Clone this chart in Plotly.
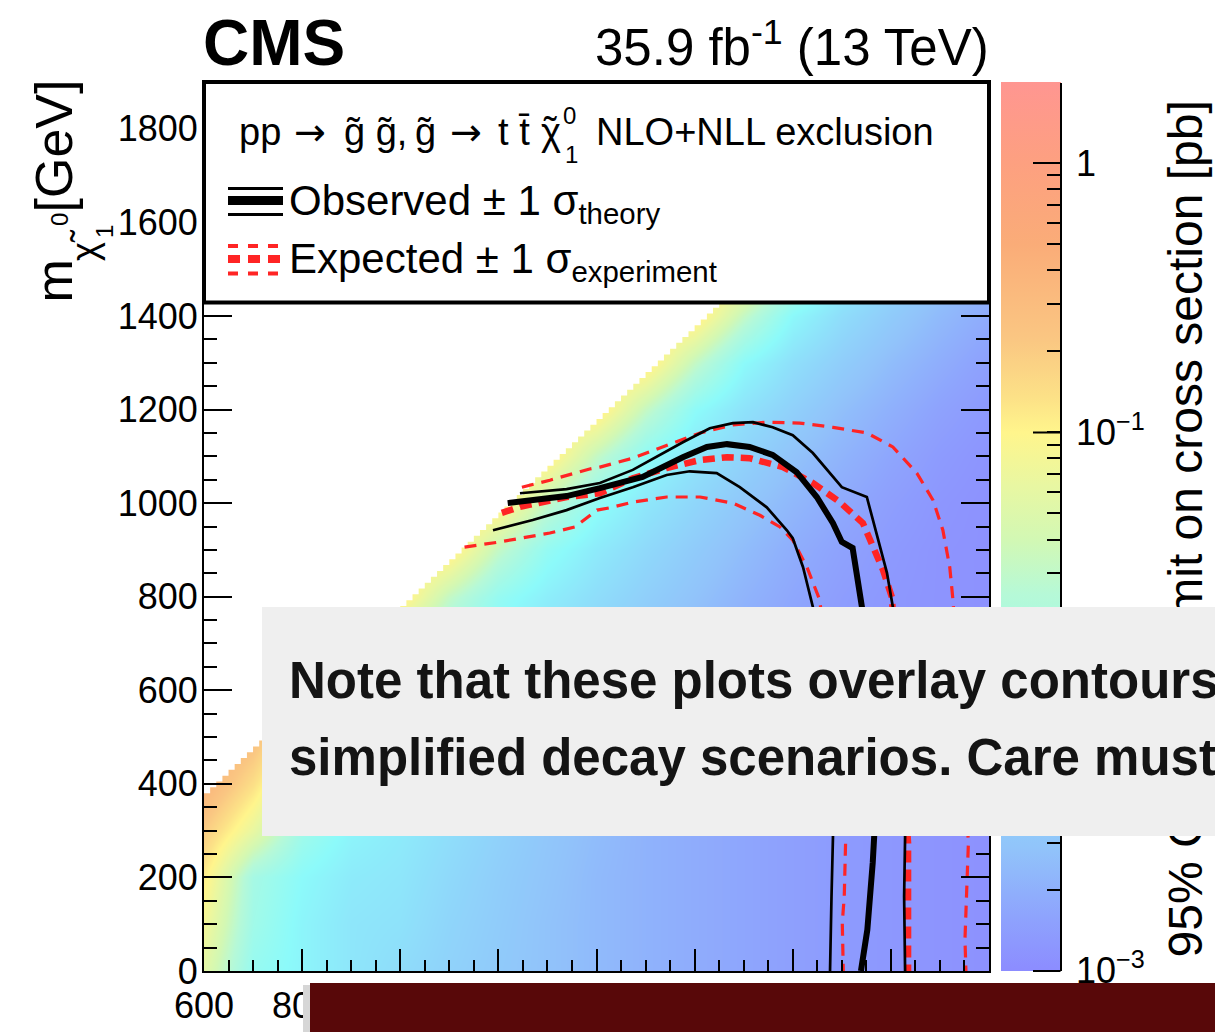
import numpy as np
import plotly.graph_objects as go

FONT = "Liberation Sans, Arial, Helvetica, sans-serif"
ARROW_FONT = "DejaVu Sans, Liberation Sans, sans-serif"
W, H = 1215, 1032
ML, MR, MT, MB = 204, 226, 82, 61
PW, PH = W - ML - MR, H - MT - MB

def px(x):
    return (x - ML) / PW

def py(y):
    return (H - MB - y) / PH

# ---------------- data ----------------
m_gluino_nodes = list(range(600, 2201, 100))
m_lsp_nodes = list(range(0, 1901, 100))
# log10 of the 95% CL upper limit [pb], rows = m_LSP nodes, cols = m_gluino nodes
log10_limit = [
    [-1.25, -1.9, -2.05, -2.2, -2.3, -2.4, -2.48, -2.55, -2.62, -2.68, -2.73, -2.78, -2.83, -2.87, -2.9, -2.93, -2.95],
    [-1.1, -1.8, -2.05, -2.2, -2.24, -2.37, -2.46, -2.55, -2.62, -2.68, -2.73, -2.78, -2.83, -2.87, -2.9, -2.93, -2.95],
    [-0.95, -1.75, -2.0, -2.15, -2.2, -2.33, -2.44, -2.53, -2.62, -2.68, -2.73, -2.78, -2.83, -2.87, -2.9, -2.93, -2.95],
    [-0.7, -1.2, -1.8, -2.05, -2.15, -2.28, -2.4, -2.51, -2.6, -2.68, -2.73, -2.78, -2.83, -2.87, -2.9, -2.93, -2.95],
    [-0.4, -0.85, -1.45, -1.85, -2.08, -2.22, -2.35, -2.47, -2.57, -2.66, -2.73, -2.78, -2.83, -2.87, -2.9, -2.93, -2.95],
    [-0.3, -0.55, -1.1, -1.6, -2.0, -2.15, -2.29, -2.41, -2.53, -2.63, -2.71, -2.78, -2.83, -2.87, -2.9, -2.93, -2.95],
    [-0.3, -0.4, -0.7, -1.35, -1.85, -2.05, -2.2, -2.34, -2.46, -2.58, -2.68, -2.76, -2.83, -2.87, -2.9, -2.93, -2.95],
    [-0.3, -0.4, -0.5, -0.8, -1.5, -1.88, -2.09, -2.24, -2.39, -2.51, -2.63, -2.73, -2.81, -2.87, -2.9, -2.93, -2.95],
    [-0.3, -0.4, -0.5, -0.6, -0.9, -1.5, -1.9, -2.12, -2.29, -2.43, -2.55, -2.67, -2.77, -2.85, -2.9, -2.93, -2.95],
    [-0.3, -0.4, -0.5, -0.6, -0.8, -0.9, -1.5, -1.92, -2.16, -2.33, -2.47, -2.6, -2.72, -2.81, -2.88, -2.93, -2.95],
    [-0.3, -0.4, -0.5, -0.6, -0.8, -0.8, -0.9, -1.5, -1.94, -2.19, -2.36, -2.51, -2.64, -2.75, -2.84, -2.91, -2.95],
    [-0.3, -0.4, -0.5, -0.6, -0.8, -0.8, -0.8, -0.9, -1.5, -1.96, -2.21, -2.39, -2.55, -2.67, -2.78, -2.87, -2.93],
    [-0.3, -0.4, -0.5, -0.6, -0.8, -0.8, -0.8, -0.8, -0.9, -1.5, -1.98, -2.24, -2.42, -2.58, -2.7, -2.81, -2.89],
    [-0.3, -0.4, -0.5, -0.6, -0.8, -0.8, -0.8, -0.8, -0.8, -0.9, -1.5, -2.0, -2.27, -2.45, -2.6, -2.72, -2.83],
    [-0.3, -0.4, -0.5, -0.6, -0.8, -0.8, -0.8, -0.8, -0.8, -0.8, -0.9, -1.5, -2.02, -2.29, -2.47, -2.62, -2.74],
    [-0.3, -0.4, -0.5, -0.6, -0.8, -0.8, -0.8, -0.8, -0.8, -0.8, -0.8, -0.9, -1.5, -2.03, -2.3, -2.49, -2.64],
    [-0.3, -0.4, -0.5, -0.6, -0.8, -0.8, -0.8, -0.8, -0.8, -0.8, -0.8, -0.8, -0.9, -1.5, -2.04, -2.32, -2.5],
    [-0.3, -0.4, -0.5, -0.6, -0.8, -0.8, -0.8, -0.8, -0.8, -0.8, -0.8, -0.8, -0.8, -0.9, -1.5, -2.05, -2.33],
    [-0.3, -0.4, -0.5, -0.6, -0.8, -0.8, -0.8, -0.8, -0.8, -0.8, -0.8, -0.8, -0.8, -0.8, -0.9, -1.5, -2.06],
    [-0.3, -0.4, -0.5, -0.6, -0.8, -0.8, -0.8, -0.8, -0.8, -0.8, -0.8, -0.8, -0.8, -0.8, -0.8, -0.9, -1.5],
]

# kinematic edge of the scanned region (m_LSP top = m_gluino - gap, in bins)
scan_bin_width = 12.5
scan_diag_gap = 220

# exclusion contours (m_gluino, m_LSP) in GeV
obs_mg = [1219, 1270, 1339, 1407, 1494, 1576, 1625, 1666, 1712, 1759, 1808, 1849, 1882, 1900, 1922, 1930, 1941, 1955, 1966, 1963, 1957, 1952, 1939]
obs_ml = [1000, 1006, 1015, 1032, 1056, 1098, 1120, 1126, 1120, 1103, 1066, 1013, 957, 917, 904, 851, 778, 537, 288, 231, 160, 88, 0]
obs_up_mg = [1244, 1339, 1407, 1474, 1576, 1631, 1678, 1719, 1759, 1800, 1841, 1876, 1900, 1951, 1971, 1992, 2004, 2018, 2029, 2027, 2029]
obs_up_ml = [1021, 1030, 1043, 1071, 1130, 1160, 1171, 1173, 1162, 1145, 1107, 1064, 1034, 1013, 936, 851, 778, 537, 287, 159, 0]
obs_dn_mg = [1189, 1270, 1339, 1407, 1474, 1543, 1590, 1645, 1692, 1747, 1788, 1800, 1821, 1841, 1859, 1882, 1879, 1876]
obs_dn_ml = [942, 964, 985, 1011, 1034, 1060, 1068, 1064, 1034, 991, 942, 925, 863, 778, 537, 288, 160, 0]
exp_mg = [1207, 1244, 1339, 1407, 1474, 1543, 1611, 1666, 1712, 1780, 1841, 1896, 1943, 1963, 1984, 2002, 2020, 2035, 2035]
exp_ml = [979, 992, 1013, 1021, 1053, 1075, 1092, 1098, 1096, 1077, 1043, 1002, 957, 906, 857, 799, 537, 274, 0]
exp_up_mg = [1248, 1305, 1386, 1407, 1474, 1543, 1611, 1678, 1747, 1814, 1882, 1951, 2004, 2053, 2086, 2106, 2120, 2126, 2145, 2158, 2154, 2151, 2153]
exp_up_ml = [1034, 1049, 1073, 1077, 1096, 1124, 1150, 1167, 1173, 1171, 1162, 1150, 1120, 1064, 1006, 942, 863, 799, 537, 273, 160, 67, 0]
exp_dn_mg = [1131, 1203, 1305, 1356, 1401, 1427, 1474, 1543, 1611, 1678, 1733, 1774, 1800, 1829, 1855, 1884, 1908, 1905, 1901, 1903]
exp_dn_ml = [906, 917, 936, 949, 985, 990, 1002, 1013, 1013, 1000, 974, 949, 921, 863, 793, 537, 288, 160, 103, 0]

# colour palette: log10(limit) -> colour
pal_log10 = [-3.0, -2.8, -2.55, -2.0, -1.6, -1.4, -1.2, -1.0, -0.87, -0.65, -0.3, 0.0, np.log10(2.0)]
pal_colors = ["rgb(140,140,255)", "rgb(142,163,253)", "rgb(145,195,250)", "rgb(140,250,250)",
              "rgb(182,249,215)", "rgb(210,248,180)", "rgb(232,247,162)", "rgb(255,245,140)",
              "rgb(252,225,135)", "rgb(250,198,130)", "rgb(250,172,120)", "rgb(253,160,128)",
              "rgb(255,150,145)"]
z_min, z_max = -3.0, np.log10(2.0)

cb_major = [-3, -2, -1, 0]
cb_major_text = ["10<sup>\u22123</sup>", "10<sup>\u22122</sup>", "10<sup>\u22121</sup>", "1"]
cb_minor = [np.log10(k * 10.0 ** e) for e in (-3, -2, -1, 0) for k in range(2, 10) if k * 10.0 ** e <= 2.0001]

x_ticks = list(range(600, 2201, 200))
y_ticks = list(range(0, 1801, 200))

# ---------------- figure ----------------
colorscale = [[(v - z_min) / (z_max - z_min), c] for v, c in zip(pal_log10, pal_colors)]
colorscale[-1][0] = 1.0

fig = go.Figure()
fig.add_trace(go.Heatmap(
    x=m_gluino_nodes, y=m_lsp_nodes, z=log10_limit, zsmooth="best",
    zmin=z_min, zmax=z_max, colorscale=colorscale, hoverinfo="skip",
    colorbar=dict(
        x=px(1001), xanchor="left", xpad=0, ypad=0, y=0, yanchor="bottom",
        len=1, lenmode="fraction", thickness=60, thicknessmode="pixels",
        outlinewidth=0, tickmode="array",
        tickvals=cb_major + cb_minor, showticklabels=False,
        ticks="inside", ticklen=14, tickwidth=2, tickcolor="black",
    ),
))

# white region outside the scanned triangle
edges = np.arange(600, 2200 + scan_bin_width, scan_bin_width)
sx, sy = [edges[0]], [2000]
for lo, hi in zip(edges[:-1], edges[1:]):
    sx += [lo, hi]
    sy += [lo - scan_diag_gap, lo - scan_diag_gap]
sx += [edges[-1]]
sy += [2000]
fig.add_trace(go.Scatter(x=sx, y=sy, mode="lines", fill="toself", fillcolor="white",
                         line=dict(width=0, color="white"), hoverinfo="skip", showlegend=False))

RED = "#ff2424"
for xs, ys in ((exp_up_mg, exp_up_ml), (exp_dn_mg, exp_dn_ml)):
    fig.add_trace(go.Scatter(x=xs, y=ys, mode="lines", showlegend=False, hoverinfo="skip",
                             line=dict(color=RED, width=3.2, dash="12px,8px")))
fig.add_trace(go.Scatter(x=exp_mg, y=exp_ml, mode="lines", showlegend=False, hoverinfo="skip",
                         line=dict(color=RED, width=6.5, dash="12px,7px")))
for xs, ys in ((obs_up_mg, obs_up_ml), (obs_dn_mg, obs_dn_ml)):
    fig.add_trace(go.Scatter(x=xs, y=ys, mode="lines", showlegend=False, hoverinfo="skip",
                             line=dict(color="black", width=2.7)))
fig.add_trace(go.Scatter(x=obs_mg, y=obs_ml, mode="lines", showlegend=False, hoverinfo="skip",
                         line=dict(color="black", width=6)))

axis_common = dict(showgrid=False, zeroline=False, showline=True, linewidth=2, linecolor="black",
                   mirror="ticks", ticks="inside", tickwidth=2, tickcolor="black",
                   tickfont=dict(size=36, family=FONT, color="black"))
fig.update_xaxes(range=[600, 2200], tickmode="array", tickvals=x_ticks, ticklen=22,
                 minor=dict(dtick=50, tick0=600, ticks="inside", ticklen=11, tickwidth=2, tickcolor="black"),
                 ticklabelstandoff=2, **axis_common)
fig.update_yaxes(range=[0, 1900], tickmode="array", tickvals=y_ticks, ticklen=28,
                 minor=dict(dtick=50, tick0=0, ticks="inside", ticklen=13, tickwidth=2, tickcolor="black"),
                 ticklabelstandoff=-3, **axis_common)

shapes = []
# legend box
shapes.append(dict(type="rect", xref="paper", yref="paper", x0=0, x1=1, y0=py(302.5), y1=1,
                   fillcolor="white", line=dict(color="black", width=4), layer="above"))
for yy, wd in ((188.5, 3), (200.5, 9), (214.5, 3)):
    shapes.append(dict(type="line", xref="paper", yref="paper", x0=px(228), x1=px(283), y0=py(yy), y1=py(yy),
                       line=dict(color="black", width=wd), layer="above"))
for yy, wd, ds in ((246, 4, "10px,10px"), (259, 8, "12px,8px"), (273.5, 4, "10px,10px")):
    shapes.append(dict(type="line", xref="paper", yref="paper", x0=px(228), x1=px(283), y0=py(yy), y1=py(yy),
                       line=dict(color=RED, width=wd, dash=ds), layer="above"))

ann = []

def text(t, x, y, size, xanchor="left", yanchor="middle", angle=0, bold=False, color="black", family=FONT):
    ann.append(dict(text=("<b>%s</b>" % t) if bold else t, x=px(x), y=py(y), xref="paper", yref="paper",
                    xanchor=xanchor, yanchor=yanchor, showarrow=False, textangle=angle, borderpad=0,
                    font=dict(size=size, family=family, color=color)))

# x axis title (lies under the dark banner, as in the reference)
text("m<sub>g\u0303</sub> [GeV]", 985, 1008, 44, xanchor="right")
# colour bar title (rotated) and tick labels
text("95% CL upper limit on cross section [pb]", 1185, 100, 48, xanchor="center", yanchor="top", angle=-90)
for v, lab in zip(cb_major, cb_major_text):
    yy = (H - MB) - (v - z_min) / (z_max - z_min) * PH
    text(lab, 1075, yy - (2.7 if "sup" in lab else 0), 36)
# y axis title pieces
text("[GeV]", 53, 79, 52, xanchor="center", yanchor="top", angle=-90)
text("m", 53, 304, 52, xanchor="center", yanchor="bottom", angle=-90)
text("\u03c7\u0303", 84, 245, 36, xanchor="center", angle=-90)
text("0", 59, 220, 24, xanchor="center", angle=-90)
text("1", 104, 232, 24, xanchor="center", angle=-90)
# header
text("CMS", 202, 43, 64, bold=True)
text("35.9 fb<sup>-1</sup> (13 TeV)", 990, 44, 51, xanchor="right")
# legend texts
HY = 132
text("pp", 238, HY, 38)
text("\u2192", 293, HY, 38, family=ARROW_FONT)
text("g\u0303 g\u0303,", 343, HY, 38)
text("g\u0303", 414, HY, 38)
text("\u2192", 449, HY, 38, family=ARROW_FONT)
text("t", 497, HY, 38)
text("t\u0304", 517, HY, 38)
text("\u03c7", 540, HY, 38)
text("\u02dc", 550, HY - 1, 38, xanchor="center")
text("0", 562, 115, 24)
text("1", 564, 154, 24)
text("NLO+NLL exclusion", 595, HY, 38)
text("Observed \u00b1 1 \u03c3<sub>theory</sub>", 288, 203, 42)
text("Expected \u00b1 1 \u03c3<sub>experiment</sub>", 288, 261, 42)

# colour bar axis line and major ticks
def seg(x_head, y_head, dx, dy):
    ann.append(dict(text=" ", x=px(x_head), y=py(y_head), xref="paper", yref="paper", ax=dx, ay=dy,
                    showarrow=True, arrowhead=0, arrowwidth=2, arrowcolor="black", standoff=0,
                    startstandoff=0, font=dict(size=1), borderpad=0))

seg(1061, H - MB, 0, -PH)
for v in cb_major:
    yy = (H - MB) - (v - z_min) / (z_max - z_min) * PH
    seg(1033, yy, 28, 0)

# overlay boxes
def box(x0, y0, w, h, color):
    ann.append(dict(text=" ", x=px(x0), y=py(y0), xref="paper", yref="paper", xanchor="left", yanchor="top",
                    width=w, height=h, bgcolor=color, borderpad=0, borderwidth=0, showarrow=False,
                    font=dict(size=2)))

box(262, 607, W - 262, 229, "#efefef")
text("Note that these plots overlay contours from different analyses", 288, 680, 51, bold=True, color="#141414")
text("simplified decay scenarios. Care must be taken", 288, 757, 51, bold=True, color="#141414")
box(303, 985, 7, H - 985, "#d6d6d6")
box(310, 983, W - 310, H - 983, "#580809")

fig.update_layout(
    width=W, height=H, margin=dict(l=ML, r=MR, t=MT, b=MB, autoexpand=False),
    paper_bgcolor="white", plot_bgcolor="white", showlegend=False,
    font=dict(family=FONT, color="black"), shapes=shapes, annotations=ann,
)
fig.write_html("out.html", config={"displayModeBar": False})
